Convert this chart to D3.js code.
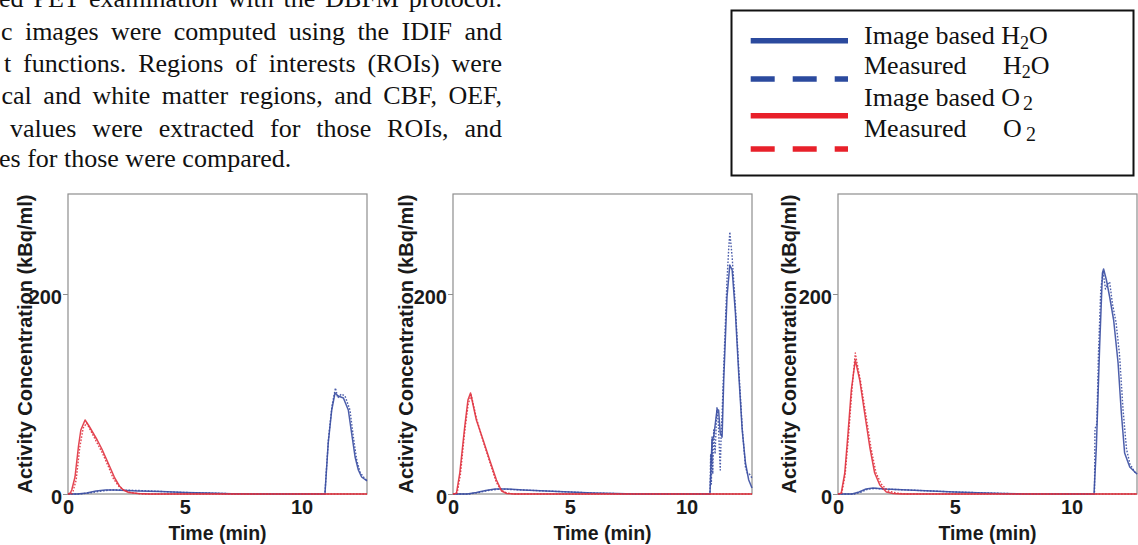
<!DOCTYPE html>
<html><head><meta charset="utf-8">
<script src="https://cdn.jsdelivr.net/npm/d3@7/dist/d3.min.js"></script>
<style>body{margin:0;background:#fff;} svg{display:block;}</style>
</head><body>
<svg id="c" width="1138" height="545"></svg>
<script>
// ---------- data ----------
const xTicks = [0, 5, 10];
const yTicks = [0, 200];
const xDomain = [0, 12.8];
const yDomain = [0, 300];
const xTitle = "Time (min)";
const yTitle = "Activity Concentration (kBq/ml)";
const seriesNames = ["Image based H2O", "Measured H2O", "Image based O2", "Measured O2"];

const bodyLines = [
  "ed PET examination with the DBFM protocol.",
  "c images were computed using the IDIF and",
  "t functions. Regions of interests (ROIs) were",
  "cal and white matter regions, and CBF, OEF,",
  "values were extracted for those ROIs, and",
  "es for those were compared."
];

// Panel 1  [time (min), activity (kBq/ml)]
const p1_h2oImage = [[0,0],[0.4,0],[0.8,1],[1.2,3],[1.6,4],[2.0,4],[2.5,3.5],[3.0,3],[4.0,2.5],[5.0,1.5],[6.0,1],[7.0,0.3],[8,0],[11.0,0],[11.14,51],[11.29,84],[11.43,101],[11.57,98],[11.79,96],[12.0,84],[12.14,61],[12.29,37],[12.43,24],[12.57,17],[12.8,13]];
const p1_h2oMeas  = [[0,0],[0.5,0],[0.9,1],[1.3,2.5],[1.8,4],[2.3,4],[3,3.5],[4,2.5],[5,1.5],[6,1],[7,0.3],[8,0],[11.0,0],[11.05,20],[11.15,55],[11.3,88],[11.45,106],[11.55,96],[11.7,100],[11.86,98],[12.07,84],[12.21,58],[12.36,34],[12.5,22],[12.71,15],[12.8,14]];
const p1_o2Image  = [[0,0],[0.1,1],[0.16,4],[0.3,17],[0.45,48],[0.55,64],[0.73,74],[0.9,68],[1.1,60],[1.25,54],[1.45,45],[1.66,34],[1.85,24],[2.0,16],[2.2,8],[2.37,4],[2.6,1.5],[3.0,0.5],[3.5,0],[12.8,0]];
const p1_o2Meas   = [[0,0],[0.15,0],[0.22,3],[0.35,14],[0.5,46],[0.65,66],[0.8,71],[1.0,62],[1.2,53],[1.45,42],[1.7,29],[1.95,15],[2.2,7],[2.45,3],[2.8,1],[3.2,0],[12.8,0]];

// Panel 2
const p2_h2oImage = [[0,0],[0.6,0],[1.0,1.5],[1.4,3.5],[1.8,5],[2.3,5],[3,4],[4,3],[5,2],[6,1],[7,0.4],[7.8,0],[11.0,0],[11.09,54],[11.16,57],[11.3,84],[11.37,84],[11.44,61],[11.52,57],[11.59,114],[11.73,197],[11.85,229],[11.95,224],[12.09,181],[12.23,121],[12.38,64],[12.52,31],[12.66,14],[12.8,6]];
const p2_h2oMeas  = [[0,0],[0.7,0],[1.1,1.5],[1.5,3.5],[2.0,5],[2.5,4.5],[3,4],[4,3],[5,2],[6,1],[7,0.4],[7.8,0],[11.0,0],[11.03,40],[11.06,10],[11.09,57],[11.12,20],[11.16,64],[11.22,40],[11.3,87],[11.36,70],[11.44,24],[11.48,60],[11.52,80],[11.59,127],[11.73,214],[11.8,244],[11.85,262],[11.95,237],[12.09,187],[12.23,127],[12.38,67],[12.52,27],[12.6,21],[12.66,21],[12.8,16]];
const p2_o2Image  = [[0,0],[0.1,0.5],[0.15,1],[0.29,21],[0.5,67],[0.64,94],[0.75,101],[1.0,74],[1.29,54],[1.57,34],[1.86,14],[2.08,3],[2.3,0.5],[2.6,0],[12.8,0]];
const p2_o2Meas   = [[0,0],[0.18,1],[0.32,20],[0.5,62],[0.65,90],[0.78,99],[1.0,76],[1.3,52],[1.6,30],[1.85,12],[2.05,4],[2.3,1],[2.6,0],[12.8,0]];

// Panel 3
const p3_h2oImage = [[0,0],[0.6,0],[0.9,2],[1.2,5],[1.5,6],[2.0,5],[2.5,4.5],[3,4],[4,3],[5,2],[6,1.3],[7,0.6],[8,0.1],[8.5,0],[10.96,0],[11.06,47],[11.2,147],[11.32,221],[11.37,225],[11.49,214],[11.63,197],[11.8,174],[11.99,131],[12.13,81],[12.27,41],[12.49,27],[12.8,20]];
const p3_h2oMeas  = [[0,0],[0.7,0],[1.0,2],[1.3,5],[1.6,5.5],[2.0,5],[2.5,4.5],[3,4],[4,3],[5,2],[6,1.3],[7,0.6],[8,0.1],[8.5,0],[10.98,0],[11.0,65],[11.08,70],[11.15,140],[11.25,205],[11.35,222],[11.45,205],[11.55,210],[11.63,212],[11.75,190],[11.9,172],[12.05,140],[12.2,85],[12.35,45],[12.5,30],[12.7,22],[12.8,20]];
const p3_o2Image  = [[0,0],[0.08,0.5],[0.14,1],[0.29,21],[0.43,61],[0.57,104],[0.74,134],[0.93,114],[1.14,81],[1.36,47],[1.57,21],[1.79,9],[2.07,2],[2.35,0.5],[2.7,0],[12.8,0]];
const p3_o2Meas   = [[0,0],[0.16,1],[0.3,18],[0.45,58],[0.6,105],[0.74,141],[0.8,133],[0.97,112],[1.2,78],[1.42,45],[1.63,21],[1.85,10],[2.15,3],[2.5,1],[2.9,0],[12.8,0]];

// ---------- layout / style ----------
const panels = [
  {left: 68,  ylabOff: 36, series: [p1_h2oImage, p1_h2oMeas, p1_o2Image, p1_o2Meas]},
  {left: 453, ylabOff: 40, series: [p2_h2oImage, p2_h2oMeas, p2_o2Image, p2_o2Meas]},
  {left: 838, ylabOff: 42, series: [p3_h2oImage, p3_h2oMeas, p3_o2Image, p3_o2Meas]}
];
const plotW = 299, plotTop = 194, plotBottom = 494;
const BLUE = "#3a4ea2", RED = "#e0323f";
const seriesStyle = [
  {color: BLUE, dash: null, w: 1.5},
  {color: BLUE, dash: "1.6,1.6", w: 1.4},
  {color: RED,  dash: null, w: 1.5},
  {color: RED,  dash: "1.6,1.6", w: 1.4}
];
const SANS = "'Liberation Sans', Arial, Helvetica, sans-serif";
const SERIF = "'Liberation Serif', 'Times New Roman', serif";

const svg = d3.select("#c");

// ---------- body text (justified) ----------
const bodyX = [-1, 1, 4, 1.5, 10, -1];
const bodyY = [7, 39.5, 72, 104, 136.5, 167];
const bodyRight = 502;
bodyLines.forEach((s, i) => {
  const t = svg.append("text").attr("x", bodyX[i]).attr("y", bodyY[i])
    .style("font-family", SERIF).style("font-size", "26px").attr("fill", "#111").text(s);
  if (i < bodyLines.length - 1) {
    const len = t.node().getComputedTextLength();
    const spaces = (s.match(/ /g) || []).length;
    const extra = (bodyRight - bodyX[i] - len) / spaces;
    t.style("word-spacing", extra + "px");
  }
});

// ---------- legend ----------
const lg = svg.append("g");
lg.append("rect").attr("x", 731.5).attr("y", 10.5).attr("width", 402).attr("height", 165)
  .attr("fill", "#fff").attr("stroke", "#111").attr("stroke-width", 2);
const legLineY = [40.7, 79, 115.7, 149];
const legColors = ["#2b4a9e", "#2b4a9e", "#e8202a", "#e8202a"];
seriesNames.forEach((n, i) => {
  lg.append("line").attr("x1", 750.7).attr("x2", 848).attr("y1", legLineY[i]).attr("y2", legLineY[i])
    .attr("stroke", legColors[i]).attr("stroke-width", 5.5)
    .attr("stroke-dasharray", i % 2 ? "24,18" : null);
});
function legText(y, parts) {
  const t = lg.append("text").attr("y", y).style("font-family", SERIF).style("font-size", "26px").attr("fill", "#111");
  parts.forEach(p => {
    const ts = t.append("tspan").text(p.s);
    if (p.x != null) ts.attr("x", p.x);
    if (p.y != null) ts.attr("y", p.y);
    if (p.fs) ts.style("font-size", p.fs + "px");
  });
}
legText(44.3, [{s: "Image based H", x: 864}, {s: "2", fs: 18, y: 48.5}, {s: "O", y: 44.3}]);
legText(74,   [{s: "Measured", x: 864}, {s: "H", x: 1003}, {s: "2", fs: 18, y: 78.2}, {s: "O", y: 74}]);
legText(106,  [{s: "Image based O", x: 864}, {s: "2", x: 1023, y: 110, fs: 20}]);
legText(136.7,[{s: "Measured", x: 864}, {s: "O", x: 1003}, {s: "2", x: 1026, y: 140.7, fs: 20}]);

// ---------- panels ----------
panels.forEach((p, pi) => {
  const x = d3.scaleLinear().domain(xDomain).range([p.left, p.left + plotW]);
  const y = d3.scaleLinear().domain(yDomain).range([plotBottom, plotTop]);
  const g = svg.append("g");

  // frame
  g.append("rect").attr("x", p.left).attr("y", plotTop).attr("width", plotW).attr("height", plotBottom - plotTop)
    .attr("fill", "none").attr("stroke", "#8e8e8e").attr("stroke-width", 1.2);

  // y axis
  const ya = d3.axisLeft(y).tickValues(yTicks).tickSize(5).tickPadding(1).tickFormat(d3.format("d"));
  const yg = g.append("g").attr("transform", `translate(${p.left},0)`).call(ya);
  yg.select(".domain").remove();
  yg.selectAll(".tick line").attr("stroke", "#8e8e8e");
  yg.selectAll(".tick text").style("font-family", SANS).style("font-size", "20px").style("font-weight", "bold")
    .attr("fill", "#1a1a1a").attr("dy", "0.45em");

  // x axis
  const xa = d3.axisBottom(x).tickValues(xTicks).tickSize(0).tickPadding(6).tickFormat(d3.format("d"));
  const xg = g.append("g").attr("transform", `translate(0,${plotBottom})`).call(xa);
  xg.select(".domain").remove();
  xg.selectAll(".tick text").style("font-family", SANS).style("font-size", "20px").style("font-weight", "bold")
    .attr("fill", "#1a1a1a");

  // titles
  g.append("text").attr("x", p.left + plotW / 2).attr("y", 540).attr("text-anchor", "middle")
    .style("font-family", SANS).style("font-size", "19.5px").style("font-weight", "bold").attr("fill", "#1a1a1a").text(xTitle);
  g.append("text").attr("transform", `translate(${p.left - p.ylabOff},${(plotTop + plotBottom) / 2}) rotate(-90)`)
    .attr("text-anchor", "middle")
    .style("font-family", SANS).style("font-size", "20px").style("font-weight", "bold").attr("fill", "#1a1a1a").text(yTitle);

  // curves
  const line = d3.line().x(d => x(d[0])).y(d => y(d[1]));
  p.series.forEach((s, si) => {
    const st = seriesStyle[si];
    g.append("path").datum(s).attr("d", line).attr("fill", "none")
      .attr("stroke", st.color).attr("stroke-width", st.w).attr("stroke-opacity", 0.9)
      .attr("stroke-linejoin", "round")
      .attr("stroke-dasharray", st.dash);
  });
});
</script>
</body></html>
